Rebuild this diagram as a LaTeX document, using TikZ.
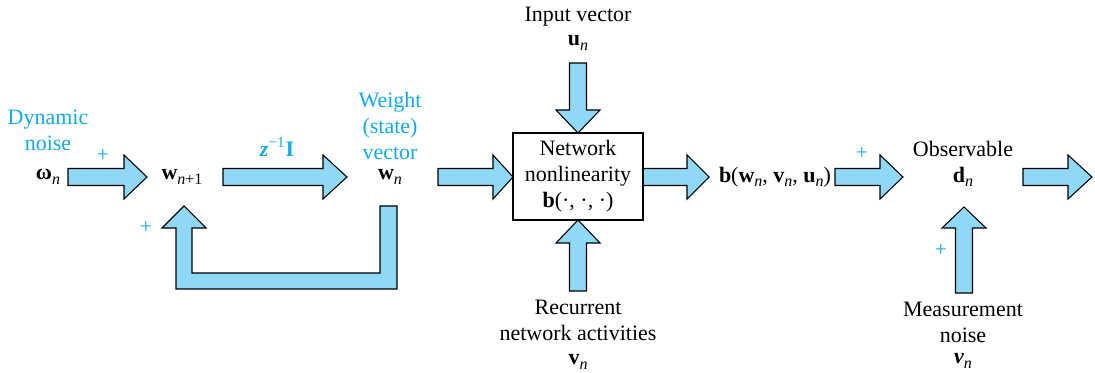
\documentclass[tikz,border=0pt]{standalone}
\usepackage{fontspec}
\setmainfont{Liberation Serif}
\definecolor{afill}{RGB}{143,216,246}
\definecolor{cblue}{RGB}{20,170,230}
\newcommand\sub[1]{\raisebox{-0.45ex}{\fontsize{12}{12}\selectfont #1}}
\newcommand\rarr[4]{\draw[barrow] (#1,#4-8.5) -- (#2,#4-8.5) -- (#2,#4-22) -- (#3,#4) -- (#2,#4+22) -- (#2,#4+8.5) -- (#1,#4+8.5) -- cycle;}
\newcommand\varr[4]{\draw[barrow] (#1-8.5,#2) -- (#1-8.5,#3) -- (#1-22,#3) -- (#1,#4) -- (#1+22,#3) -- (#1+8.5,#3) -- (#1+8.5,#2) -- cycle;}
\begin{document}
\begin{tikzpicture}[x=0.75pt,y=-0.75pt,
  barrow/.style={draw=black,fill=afill,line width=0.8pt,line join=miter},
  lbl/.style={inner sep=0pt,align=center,font=\fontsize{16.5}{19.5}\selectfont},
  blbl/.style={lbl,text=cblue},
  plus/.style={inner sep=0pt,text=cblue,font=\fontsize{16}{16}\selectfont}]
\useasboundingbox (0,0) rectangle (1095,373);
% block arrows
\rarr{68}{124}{147}{177}
\rarr{223}{323}{347}{177}
\rarr{438}{493}{513}{177}
\rarr{643}{687}{709}{177}
\rarr{835}{880}{903}{177}
\rarr{1023}{1068}{1092}{177}
\varr{578}{63}{110}{133}
\varr{578}{291}{243}{220}
\varr{964}{293}{228}{207}
\draw[barrow] (380,206) -- (397,206) -- (397,289) -- (176,289) -- (176,228) -- (162,228) -- (184,206) -- (206,228) -- (192,228) -- (192,273) -- (380,273) -- cycle;
% box
\node[lbl,draw=black,fill=white,line width=1.1pt,minimum width=97.5pt,minimum height=65.25pt] (box) at (578,176.5) {Network\\nonlinearity\\\textbf{b}(·, ·, ·)};
% labels
\node[blbl] (dyn) at (48,130) {Dynamic\\noise};
\node[plus] (p1) at (103,155) {+};
\node[lbl] (om) at (48,177) {\textbf{ω}\sub{\textit{n}}};
\node[lbl] (wn1) at (182,177) {\textbf{w}\sub{\textit{n}+1}};
\node[blbl] (z) at (277,147) {{\bfseries\itshape z}\textsuperscript{−1}\textbf{I}};
\node[blbl] (wt) at (390,125.5) {Weight\\(state)\\vector};
\node[lbl] (wn) at (390,177) {\textbf{w}\sub{\textit{n}}};
\node[plus] (p2) at (146,227) {+};
\node[lbl] (inp) at (578,17) {Input vector};
\node[lbl] (un) at (578,43) {\textbf{u}\sub{\textit{n}}};
\node[lbl] (rec) at (578,320.5) {Recurrent\\network activities};
\node[lbl] (vn) at (578,362) {\textbf{v}\sub{\textit{n}}};
\node[lbl] (bo) at (775,177) {\textbf{b}(\textbf{w}\sub{\textit{n}}, \textbf{v}\sub{\textit{n}}, \textbf{u}\sub{\textit{n}})};
\node[plus] (p3) at (862,153) {+};
\node[lbl] (obs) at (963,149) {Observable};
\node[lbl] (dn) at (963,177) {\textbf{d}\sub{\textit{n}}};
\node[plus] (p4) at (941,250) {+};
\node[lbl] (mea) at (963,322.5) {Measurement\\noise};
\node[lbl] (nu) at (963,361) {{\bfseries\itshape ν}\sub{\textit{n}}};
\end{tikzpicture}
\end{document}
